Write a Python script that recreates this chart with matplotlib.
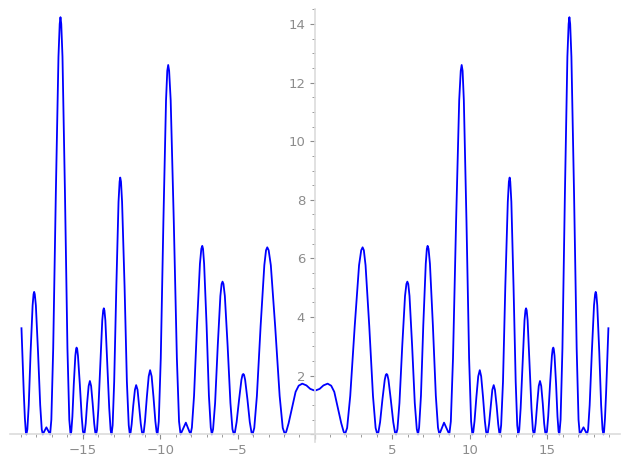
import numpy as np
import matplotlib
matplotlib.use("Agg")
import matplotlib.pyplot as plt
from matplotlib.ticker import MultipleLocator, FuncFormatter

# values, x >= 0 (curve is symmetric about x = 0)
x_pos = [0.00, 0.30, 0.55, 0.82, 1.05, 1.25, 1.50, 1.70, 1.85, 1.94,
         2.08, 2.28, 2.57, 2.85, 2.99, 3.08, 3.16, 3.27, 3.51, 3.75, 3.92, 4.03,
         4.10, 4.21, 4.36, 4.51, 4.58, 4.63, 4.68, 4.75, 4.90, 5.06, 5.17, 5.24,
         5.33, 5.46, 5.64, 5.82, 5.91, 5.97, 6.03, 6.11, 6.28, 6.45, 6.58, 6.66,
         6.73, 6.85, 7.00, 7.16, 7.23, 7.28, 7.34, 7.43, 7.62, 7.81, 7.95, 8.04,
         8.19, 8.34, 8.51, 8.68,
         8.78, 8.92, 9.12, 9.32, 9.42, 9.48, 9.54, 9.62, 9.79, 9.96, 10.09, 10.17,
         10.23, 10.31, 10.43, 10.55, 10.65, 10.74, 10.86, 10.98, 11.06, 11.12,
         11.17, 11.25, 11.36, 11.46, 11.55, 11.63, 11.74, 11.84, 11.91, 11.96,
         12.03, 12.15, 12.30, 12.46, 12.53, 12.58, 12.62, 12.69, 12.83, 12.97, 13.07, 13.14,
         13.20, 13.29, 13.42, 13.54, 13.60, 13.64, 13.68, 13.74, 13.86, 13.99, 14.08, 14.14,
         14.19, 14.26, 14.36, 14.46, 14.54, 14.62, 14.72, 14.81, 14.88, 14.93,
         14.99, 15.07, 15.19, 15.31, 15.36, 15.40, 15.43, 15.48, 15.58, 15.67, 15.74, 15.79,
         15.87, 15.99, 16.15, 16.31, 16.39, 16.44, 16.49, 16.57, 16.74, 16.91, 17.03, 17.11,
         17.23, 17.35, 17.47, 17.58,
         17.65, 17.75, 17.89, 18.03, 18.10, 18.14, 18.18, 18.24, 18.37, 18.49, 18.58, 18.64,
         18.68, 18.74, 18.81, 18.88, 18.96]
y_pos = [1.49, 1.55, 1.67, 1.73, 1.66, 1.45, 0.85, 0.38, 0.10, 0.00,
         0.22, 1.31, 3.69, 5.77, 6.28, 6.38, 6.28, 5.77, 3.69, 1.31, 0.22, 0.00,
         0.07, 0.42, 1.19, 1.86, 2.03, 2.06, 2.03, 1.86, 1.19, 0.42, 0.07, 0.00,
         0.18, 1.07, 3.01, 4.72, 5.13, 5.21, 5.13, 4.72, 3.01, 1.07, 0.18, 0.00,
         0.23, 1.32, 3.72, 5.82, 6.33, 6.43, 6.33, 5.82, 3.72, 1.32, 0.23, 0.00,
         0.20, 0.40, 0.20, 0.00,
         0.44, 2.60, 7.28, 11.40, 12.40, 12.60, 12.40, 11.40, 7.28, 2.60, 0.44, 0.00,
         0.08, 0.45, 1.27, 1.98, 2.19, 1.98, 1.27, 0.45, 0.08, 0.00,
         0.06, 0.35, 0.97, 1.52, 1.68, 1.52, 0.97, 0.35, 0.06, 0.00,
         0.31, 1.80, 5.06, 7.93, 8.62, 8.76, 8.62, 7.93, 5.06, 1.80, 0.31, 0.00,
         0.15, 0.89, 2.49, 3.89, 4.23, 4.30, 4.23, 3.89, 2.49, 0.89, 0.15, 0.00,
         0.06, 0.37, 1.05, 1.65, 1.82, 1.65, 1.05, 0.37, 0.06, 0.00,
         0.10, 0.61, 1.71, 2.68, 2.91, 2.96, 2.91, 2.68, 1.71, 0.61, 0.10, 0.00,
         0.50, 2.93, 8.22, 12.88, 14.00, 14.23, 14.00, 12.88, 8.22, 2.93, 0.50, 0.00,
         0.12, 0.24, 0.12, 0.00,
         0.17, 1.00, 2.81, 4.40, 4.78, 4.86, 4.78, 4.40, 2.81, 1.00, 0.17, 0.00,
         0.10, 0.55, 1.40, 2.45, 3.62]

xp = np.array(x_pos)
yp = np.array(y_pos)
x = np.concatenate([-xp[:0:-1], xp])
y = np.concatenate([yp[:0:-1], yp])

AXIS_C = "#dcdcdc"
TICK_C = "#8c8c8c"

fig = plt.figure(figsize=(6.3, 4.68), dpi=100)
ax = fig.add_axes([0.0159, 0.0562, 0.968, 0.924])
ax.plot(x, y, color="#0000ff", linewidth=1.3)

ax.set_xlim(-19.7, 19.7)
ax.set_ylim(-0.25, 14.5)

for side in ["top", "right"]:
    ax.spines[side].set_visible(False)
for side in ["left", "bottom"]:
    ax.spines[side].set_position(("data", 0))
    ax.spines[side].set_color(AXIS_C)
    ax.spines[side].set_linewidth(1.2)

ax.xaxis.set_major_locator(MultipleLocator(5))
ax.xaxis.set_minor_locator(MultipleLocator(1))
ax.yaxis.set_major_locator(MultipleLocator(2))
ax.yaxis.set_minor_locator(MultipleLocator(0.5))

hide_zero = FuncFormatter(lambda v, p: "" if abs(v) < 1e-9 else f"{v:g}".replace("-", "\u2212"))
ax.xaxis.set_major_formatter(hide_zero)
ax.yaxis.set_major_formatter(hide_zero)

ax.tick_params(which="major", length=3.5, width=0.8, color=TICK_C,
               labelcolor=TICK_C, labelsize=9.5)
ax.tick_params(which="minor", length=2, width=0.6, color=TICK_C)

plt.savefig("out.png", dpi=100)
plt.close()
